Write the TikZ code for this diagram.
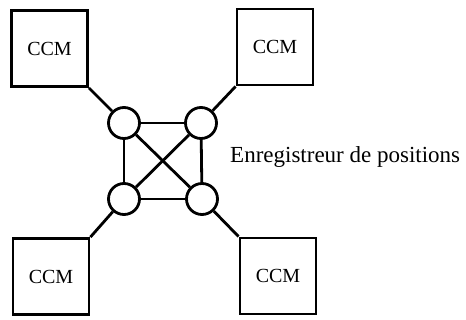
\documentclass[tikz,border=0pt]{standalone}
\usepackage{fontspec}
\setmainfont{Liberation Serif}
\begin{document}
\begin{tikzpicture}[x=1pt,y=-1pt,
  ccmbox/.style={draw,line width=2.8pt,minimum width=76pt,minimum height=76pt,inner sep=0pt,font=\fontsize{20}{24}\selectfont},
  hub/.style={draw,circle,line width=2.8pt,minimum size=31pt,inner sep=0pt,fill=white},
  link/.style={line width=2.8pt}]
\useasboundingbox (0,0) rectangle (466,320);
\node[ccmbox] (b1) at (49.5,48.5) {CCM};
\node[ccmbox] (b2) at (275,47) {CCM};
\node[ccmbox] (b3) at (51,276.5) {CCM};
\node[ccmbox] (b4) at (278,276) {CCM};
\node[hub] (c1) at (124,123) {};
\node[hub] (c2) at (201,123) {};
\node[hub] (c3) at (124,199) {};
\node[hub] (c4) at (202,199) {};
\draw[link] (b1.south east) -- (c1);
\draw[link] (b2.south west) -- (c2);
\draw[link] (b3.north east) -- (c3);
\draw[link] (b4.north west) -- (c4);
\draw[link] (c1) -- (c2);
\draw[link] (c3) -- (c4);
\draw[link] (c1) -- (c3);
\draw[link] (c2) -- (c4);
\draw[link] (c1) -- (c4);
\draw[link] (c2) -- (c3);
\node[anchor=base west,inner sep=0pt,font=\fontsize{23}{27}\selectfont] (lbl) at (230,163) {Enregistreur de positions};
\end{tikzpicture}
\end{document}
